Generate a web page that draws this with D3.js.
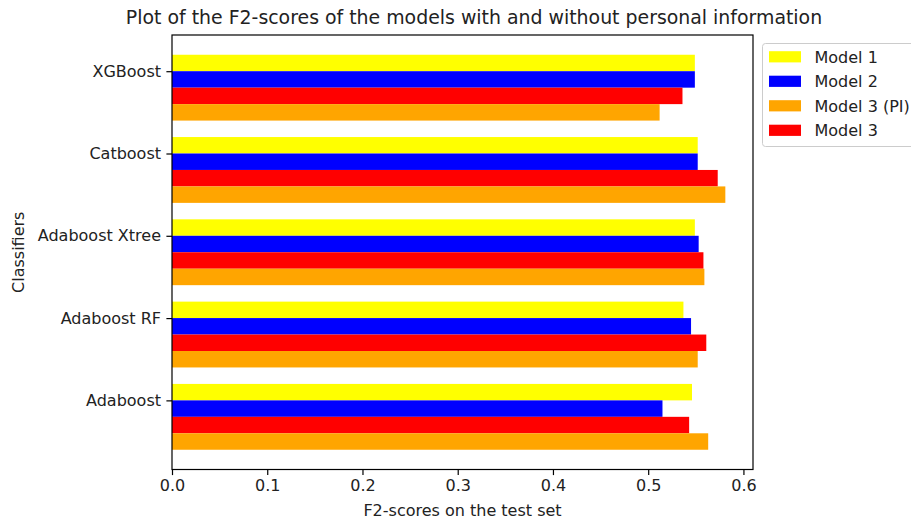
<!DOCTYPE html>
<html>
<head>
<meta charset="utf-8">
<script src="https://cdn.jsdelivr.net/npm/d3@7"></script>
<style>
  html, body { margin: 0; padding: 0; background: #fff; }
  svg { display: block; font-family: "DejaVu Sans", sans-serif; }
</style>
</head>
<body>
<svg id="chart" width="911" height="522"></svg>
<script>
// ---- data ----
const categories = ["Adaboost", "Adaboost RF", "Adaboost Xtree", "Catboost", "XGBoost"];
const model1   = [0.546, 0.537, 0.549, 0.552, 0.549];
const model2   = [0.515, 0.545, 0.553, 0.552, 0.549];
const model3   = [0.543, 0.561, 0.558, 0.573, 0.536];
const model3PI = [0.563, 0.552, 0.559, 0.581, 0.512];
const xTicks = [0.0, 0.1, 0.2, 0.3, 0.4, 0.5, 0.6];
const title = "Plot of the F2-scores of the models with and without personal information";
const xLabel = "F2-scores on the test set";
const yLabel = "Classifiers";

// series in drawing order (top to bottom within a group), with offset of bar top in category units
const series = [
  { name: "Model 1",      values: model1,   color: "#ffff00", offset: 0.2 },
  { name: "Model 2",      values: model2,   color: "#0000ff", offset: 0.0 },
  { name: "Model 3",      values: model3,   color: "#ff0000", offset: -0.2 },
  { name: "Model 3 (PI)", values: model3PI, color: "#ffa500", offset: -0.4 }
];
const legendOrder = ["Model 1", "Model 2", "Model 3 (PI)", "Model 3"];
const barH = 0.2;

// ---- layout ----
const mLeft = 172, mRight = 753, mTop = 35, mBottom = 469.5;
const fs = 16, fsTitle = 18.9;
const svg = d3.select("#chart");

const allVals = series.flatMap(s => s.values);
const xMax = d3.max(allVals) * 1.05;
const x = d3.scaleLinear().domain([0, xMax]).range([mLeft, mRight]);
const yMin = -0.6, yMaxD = categories.length - 1 + 0.2;
const yPad = (yMaxD - yMin) * 0.05;
const y = d3.scaleLinear().domain([yMin - yPad, yMaxD + yPad]).range([mBottom, mTop]);

// bars
series.forEach(s => {
  svg.append("g").selectAll("rect")
    .data(s.values)
    .join("rect")
    .attr("x", x(0))
    .attr("y", (d, i) => y(i + s.offset))
    .attr("width", d => x(d) - x(0))
    .attr("height", (d, i) => y(i + s.offset - barH) - y(i + s.offset))
    .attr("fill", s.color);
});

// frame
svg.append("rect")
  .attr("x", mLeft).attr("y", mTop)
  .attr("width", mRight - mLeft).attr("height", mBottom - mTop)
  .attr("fill", "none").attr("stroke", "#000").attr("stroke-width", 1.2);

// x axis
const xAxis = d3.axisBottom(x).tickValues(xTicks).tickFormat(d3.format(".1f"))
  .tickSize(5.6).tickPadding(5);
const gx = svg.append("g").attr("transform", `translate(0,${mBottom})`).call(xAxis);
gx.select(".domain").remove();
gx.selectAll("line").attr("stroke", "#000").attr("stroke-width", 1.2);
gx.selectAll("text").attr("font-size", fs).attr("fill", "#222").attr("font-family", "DejaVu Sans");

// y axis
const yAxis = d3.axisLeft(y).tickValues(d3.range(categories.length))
  .tickFormat(i => categories[i]).tickSize(5.6).tickPadding(5.4);
const gy = svg.append("g").attr("transform", `translate(${mLeft},0)`).call(yAxis);
gy.select(".domain").remove();
gy.selectAll("line").attr("stroke", "#000").attr("stroke-width", 1.2);
gy.selectAll("text").attr("font-size", fs).attr("fill", "#222").attr("font-family", "DejaVu Sans");

// labels
svg.append("text")
  .attr("x", 474).attr("y", 24)
  .attr("text-anchor", "middle").attr("font-size", fsTitle).attr("fill", "#222")
  .text(title);
svg.append("text")
  .attr("x", (mLeft + mRight) / 2).attr("y", 516)
  .attr("text-anchor", "middle").attr("font-size", fs).attr("fill", "#222")
  .text(xLabel);
svg.append("text")
  .attr("transform", `translate(24,${(mTop + mBottom) / 2}) rotate(-90)`)
  .attr("text-anchor", "middle").attr("font-size", fs).attr("fill", "#222")
  .text(yLabel);

// legend
const lg = svg.append("g").attr("transform", "translate(762.5,43.5)");
lg.append("rect")
  .attr("x", 0).attr("y", 0).attr("width", 170).attr("height", 103)
  .attr("rx", 3).attr("fill", "#fff").attr("fill-opacity", 0.8)
  .attr("stroke", "#cccccc").attr("stroke-width", 1);
legendOrder.forEach((name, k) => {
  const s = series.find(t => t.name === name);
  const cy = 13.3 + k * 24.5;
  lg.append("rect")
    .attr("x", 6.5).attr("y", cy - 5.6).attr("width", 32).attr("height", 11.2)
    .attr("fill", s.color);
  lg.append("text")
    .attr("x", 52).attr("y", cy).attr("dy", "0.36em")
    .attr("font-size", fs).attr("fill", "#222")
    .text(name);
});
</script>
</body>
</html>
